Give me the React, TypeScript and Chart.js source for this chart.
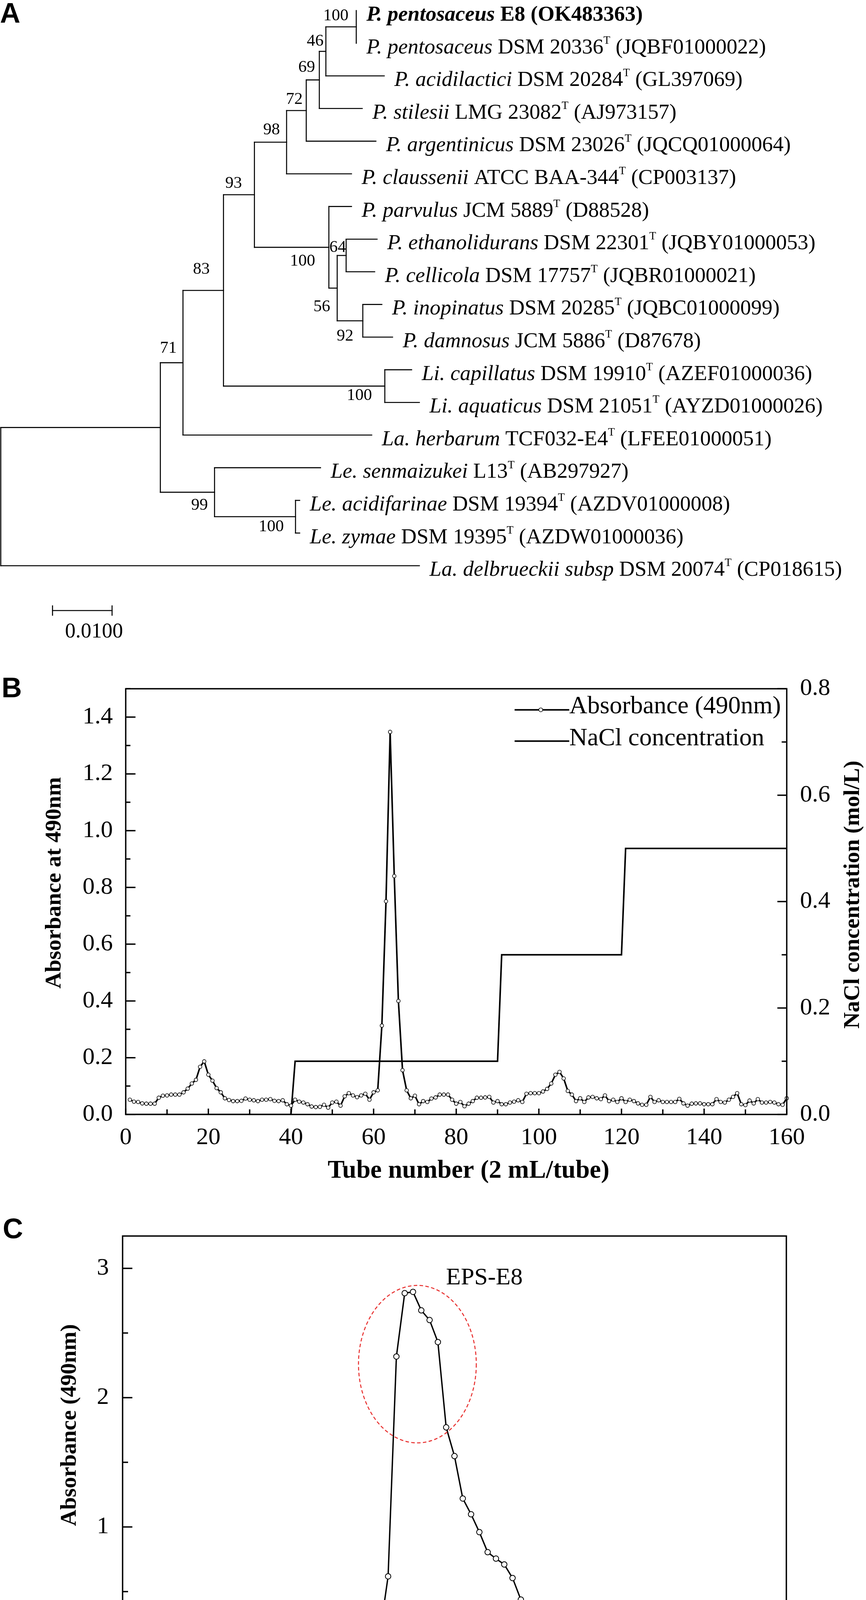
import React, { useEffect, useRef } from 'react';
import { Chart, registerables } from 'chart.js';

Chart.register(...registerables);

const SERIF = "'Liberation Serif', 'Times New Roman', Times, serif";
const SANS = "'Liberation Sans', Arial, Helvetica, sans-serif";
const PAGE_W = 2218;

/* ================= Panel A : phylogenetic tree ================= */
const leafSpecies = [
  'P. pentosaceus', 'P. pentosaceus', 'P. acidilactici', 'P. stilesii', 'P. argentinicus',
  'P. claussenii', 'P. parvulus', 'P. ethanolidurans', 'P. cellicola', 'P. inopinatus',
  'P. damnosus', 'Li. capillatus', 'Li. aquaticus', 'La. herbarum', 'Le. senmaizukei',
  'Le. acidifarinae', 'Le. zymae', 'La. delbrueckii subsp',
];
const leafStrains = [
  'E8', 'DSM 20336', 'DSM 20284', 'LMG 23082', 'DSM 23026', 'ATCC BAA-344', 'JCM 5889',
  'DSM 22301', 'DSM 17757', 'DSM 20285', 'JCM 5886', 'DSM 19910', 'DSM 21051', 'TCF032-E4',
  'L13', 'DSM 19394', 'DSM 19395', 'DSM 20074',
];
const leafAccessions = [
  'OK483363', 'JQBF01000022', 'GL397069', 'AJ973157', 'JQCQ01000064', 'CP003137', 'D88528',
  'JQBY01000053', 'JQBR01000021', 'JQBC01000099', 'D87678', 'AZEF01000036', 'AYZD01000026',
  'LFEE01000051', 'AB297927', 'AZDV01000008', 'AZDW01000036', 'CP018615',
];
const leafTypeStrain = [false, true, true, true, true, true, true, true, true, true, true, true, true, true, true, true, true, true];
const boldLeaf = 0;
const leafParents = ['I', 'I', 'H', 'G', 'F', 'E', 'J', 'L', 'L', 'M', 'M', 'Li', 'Li', 'B', 'N', 'O', 'O', 'root'];
const leafBranchLengths = [0, 0, 0.0098, 0.0072, 0.0117, 0.0109, 0.0038, 0.0052, 0.0048, 0.0032, 0.005, 0.0045, 0.0058, 0.0317, 0.0178, 0.0007, 0.0007, 0.0703];
const nodeIds = ['A', 'B', 'C', 'D', 'E', 'F', 'G', 'H', 'I', 'J', 'K', 'L', 'M', 'Li', 'N', 'O'];
const nodeParents = ['root', 'A', 'B', 'C', 'D', 'E', 'F', 'G', 'H', 'D', 'J', 'K', 'K', 'C', 'A', 'N'];
const nodeBranchLengths = [0.0268, 0.0038, 0.0068, 0.0052, 0.0054, 0.0033, 0.0022, 0.0011, 0.0051, 0.0125, 0.0014, 0.0015, 0.0043, 0.0271, 0.0091, 0.0136];
const nodeBootstrap = [null, 71, 83, 93, 98, 72, 69, 46, 100, 100, 56, 64, 92, 100, 99, 100];
const scaleBarValue = 0.01;
const scaleBarText = '0.0100';

// label placement style (px): [gap left of node, baseline offset from branch]
const bootstrapPlacement: Record<string, [number, number]> = {
  B: [16, -26], C: [35, -42], D: [32, -18], E: [17, -20], F: [9, -17], G: [11, -21], H: [6, -15],
  I: [20, -17], J: [35, 47], K: [18, 59], L: [0, -9], M: [24, 51], Li: [33, 36], N: [17, 45], O: [30, 37],
};

function layoutTree() {
  const parentOf: Record<string, string> = {};
  const lengthOf: Record<string, number> = {};
  const kids: Record<string, string[]> = { root: [] };
  nodeIds.forEach((id, k) => {
    parentOf[id] = nodeParents[k];
    lengthOf[id] = nodeBranchLengths[k];
    if (!kids[id]) kids[id] = [];
  });
  nodeIds.forEach((id) => {
    const p = parentOf[id];
    (kids[p] = kids[p] || []).push(id);
  });
  leafParents.forEach((p, i) => {
    const id = 'leaf' + i;
    parentOf[id] = p;
    lengthOf[id] = leafBranchLengths[i];
    (kids[p] = kids[p] || []).push(id);
  });
  const X: Record<string, number> = { root: 0 };
  const Y: Record<string, number> = {};
  const depth = (id: string): number => {
    if (X[id] !== undefined) return X[id];
    X[id] = depth(parentOf[id]) + lengthOf[id];
    return X[id];
  };
  const row = (id: string): number => {
    if (Y[id] !== undefined) return Y[id];
    if (id.startsWith('leaf')) {
      Y[id] = Number(id.slice(4));
      return Y[id];
    }
    const ys = kids[id].map(row);
    Y[id] = (Math.min(...ys) + Math.max(...ys)) / 2;
    return Y[id];
  };
  Object.keys(parentOf).forEach((id) => { depth(id); row(id); });
  row('root');
  const segments: { x: number; y: number }[][] = [];
  ['root', ...nodeIds].forEach((n) => {
    const ys = kids[n].map(row);
    segments.push([{ x: X[n], y: Math.min(...ys) }, { x: X[n], y: Math.max(...ys) }]);
    kids[n].forEach((c) => {
      if (X[c] > X[n]) segments.push([{ x: X[n], y: Y[c] }, { x: X[c], y: Y[c] }]);
    });
  });
  return { X, Y, segments };
}

type Seg = { text: string; italic?: boolean; bold?: boolean; sup?: boolean };
function drawRich(ctx: CanvasRenderingContext2D, x: number, y: number, segs: Seg[], size: number) {
  let cx = x;
  segs.forEach((s) => {
    const fs = s.sup ? size * 0.52 : size;
    ctx.font = `${s.italic ? 'italic ' : ''}${s.bold ? 'bold ' : ''}${fs}px ${SERIF}`;
    ctx.fillText(s.text, cx, s.sup ? y - size * 0.45 : y);
    cx += ctx.measureText(s.text).width;
  });
}

function TreePanel() {
  const ref = useRef<HTMLCanvasElement>(null);
  useEffect(() => {
    const H = 1700;
    const pxPerUnit = 15250;
    const rootPx = 2;
    const firstRowPx = 27;
    const rowPx = 83.6;
    const barStart = 0.00869;
    const barRow = 18.373;
    const { X, Y, segments } = layoutTree();
    const lineStyle = { showLine: true, borderColor: '#000', borderWidth: 2.6, pointRadius: 0, borderCapStyle: 'square', tension: 0, clip: false };
    const datasets: any[] = segments.map((s) => ({ ...lineStyle, data: s }));
    const tickHalf = 12 / rowPx;
    datasets.push({ ...lineStyle, data: [{ x: barStart, y: barRow }, { x: barStart + scaleBarValue, y: barRow }] });
    datasets.push({ ...lineStyle, data: [{ x: barStart, y: barRow - tickHalf }, { x: barStart, y: barRow + tickHalf }] });
    datasets.push({ ...lineStyle, data: [{ x: barStart + scaleBarValue, y: barRow - tickHalf }, { x: barStart + scaleBarValue, y: barRow + tickHalf }] });

    const labels = {
      id: 'treeLabels',
      afterDatasetsDraw(chart: any) {
        const { ctx, scales } = chart;
        const xs = scales.x;
        const ys = scales.y;
        ctx.save();
        ctx.fillStyle = '#000';
        ctx.textBaseline = 'alphabetic';
        ctx.textAlign = 'left';
        leafSpecies.forEach((sp, i) => {
          const id = 'leaf' + i;
          const px = xs.getPixelForValue(X[id]) + 26;
          const py = ys.getPixelForValue(i) + 26;
          const bold = i === boldLeaf;
          const segs: Seg[] = [{ text: sp, italic: true, bold }, { text: ' ' + leafStrains[i], bold }];
          if (leafTypeStrain[i]) segs.push({ text: 'T', sup: true, bold });
          segs.push({ text: ' (' + leafAccessions[i] + ')', bold });
          drawRich(ctx, px, py, segs, 55);
        });
        ctx.textAlign = 'right';
        ctx.font = `43px ${SERIF}`;
        nodeIds.forEach((id, k) => {
          const b = nodeBootstrap[k];
          if (b == null) return;
          const [gap, dy] = bootstrapPlacement[id] || [16, -18];
          ctx.fillText(String(b), xs.getPixelForValue(X[id]) - gap, ys.getPixelForValue(Y[id]) + dy);
        });
        ctx.textAlign = 'left';
        ctx.font = `54px ${SERIF}`;
        ctx.fillText(scaleBarText, xs.getPixelForValue(barStart) + 32, ys.getPixelForValue(barRow) + 69);
        ctx.font = `bold 72px ${SANS}`;
        ctx.fillText('A', 0, 58);
        ctx.restore();
      },
    };

    const chart = new Chart(ref.current!, {
      type: 'scatter',
      data: { datasets },
      options: {
        responsive: false,
        animation: false,
        devicePixelRatio: 1,
        layout: { padding: 0 },
        plugins: { legend: { display: false }, tooltip: { enabled: false } },
        scales: {
          x: { type: 'linear', display: false, min: -rootPx / pxPerUnit, max: (PAGE_W - rootPx) / pxPerUnit },
          y: { type: 'linear', display: false, reverse: true, min: -firstRowPx / rowPx, max: -firstRowPx / rowPx + H / rowPx },
        },
      } as any,
      plugins: [labels as any],
    });
    return () => chart.destroy();
  }, []);
  return <canvas ref={ref} width={PAGE_W} height={1700} style={{ position: 'absolute', left: 0, top: 0 }} />;
}

/* ================= Panel B : DEAE elution profile ================= */
const tubeNumbersB = Array.from({ length: 160 }, (_, i) => i + 1);
const absorbanceB = [
  0.052, 0.045, 0.044, 0.039, 0.038, 0.038, 0.038, 0.059, 0.066, 0.067,
  0.070, 0.070, 0.070, 0.078, 0.091, 0.109, 0.122, 0.168, 0.187, 0.140,
  0.119, 0.093, 0.078, 0.057, 0.051, 0.047, 0.047, 0.048, 0.056, 0.052,
  0.050, 0.047, 0.052, 0.052, 0.054, 0.048, 0.047, 0.050, 0.036, 0.031,
  0.052, 0.045, 0.042, 0.036, 0.028, 0.026, 0.027, 0.034, 0.024, 0.042,
  0.045, 0.031, 0.064, 0.075, 0.067, 0.061, 0.067, 0.073, 0.052, 0.078,
  0.085, 0.313, 0.751, 1.348, 0.840, 0.400, 0.156, 0.085, 0.057, 0.066,
  0.036, 0.047, 0.044, 0.056, 0.060, 0.070, 0.070, 0.070, 0.052, 0.038,
  0.044, 0.029, 0.038, 0.047, 0.059, 0.059, 0.060, 0.062, 0.042, 0.047,
  0.036, 0.036, 0.042, 0.045, 0.050, 0.044, 0.073, 0.075, 0.075, 0.075,
  0.081, 0.090, 0.109, 0.140, 0.150, 0.127, 0.083, 0.070, 0.047, 0.057,
  0.044, 0.060, 0.062, 0.057, 0.054, 0.067, 0.047, 0.052, 0.044, 0.057,
  0.044, 0.052, 0.047, 0.039, 0.034, 0.034, 0.062, 0.044, 0.050, 0.044,
  0.044, 0.044, 0.044, 0.055, 0.039, 0.031, 0.038, 0.039, 0.039, 0.036,
  0.036, 0.036, 0.054, 0.044, 0.042, 0.052, 0.062, 0.075, 0.036, 0.033,
  0.049, 0.039, 0.054, 0.042, 0.042, 0.044, 0.042, 0.036, 0.034, 0.057,
];
const naclTubes = [0, 40, 41, 90, 91, 120, 121, 160];
const naclConc = [0, 0, 0.1, 0.1, 0.3, 0.3, 0.5, 0.5];
const xTicksB = [0, 20, 40, 60, 80, 100, 120, 140, 160];
const yTicksB = [0, 0.2, 0.4, 0.6, 0.8, 1.0, 1.2, 1.4];
const y2TicksB = [0, 0.2, 0.4, 0.6, 0.8];

/* ================= Panel C : Sephadex purification ================= */
const tubeNumbersC = Array.from({ length: 80 }, (_, i) => i + 1);
const absorbanceC = [
  0.083, 0.075, 0.088, 0.083, 0.088, 0.083, 0.118, 0.100, 0.108, 0.100,
  0.088, 0.098, 0.113, 0.095, 0.113, 0.105, 0.100, 0.100, 0.103, 0.080,
  0.100, 0.103, 0.105, 0.108, 0.088, 0.075, 0.113, 0.113, 0.123, 0.083,
  0.170, 0.618, 2.318, 2.808, 2.818, 2.675, 2.600, 2.430, 1.770, 1.548,
  1.220, 1.098, 0.960, 0.805, 0.755, 0.710, 0.605, 0.438, 0.198, 0.118,
  0.075, 0.070, 0.113, 0.083, 0.080, 0.088, 0.088, 0.105, 0.113, 0.100,
  0.055, 0.113, 0.108, 0.110, 0.105, 0.100, 0.108, 0.095, 0.095, 0.095,
  0.100, 0.088, 0.073, 0.095, 0.048, 0.093, 0.050, 0.095, 0.093, 0.030,
];
const xTicksC = [0, 10, 20, 30, 40, 50, 60, 70, 80];
const yTicksC = [0, 1, 2, 3];
const peakLabel = 'EPS-E8';
const peakLabelPos = { x: 43.6, y: 2.877 };
const peakEllipse = { cx: 35.53, cy: 2.259, rx: 7.1, ry: 0.609 };

/* ---------------- shared drawing helpers ---------------- */
function frame(ctx: CanvasRenderingContext2D, a: any, w: number) {
  ctx.save();
  ctx.strokeStyle = '#000';
  ctx.lineWidth = w;
  ctx.lineCap = 'square';
  ctx.strokeRect(a.left, a.top, a.right - a.left, a.bottom - a.top);
  ctx.restore();
}
function ticks(ctx: CanvasRenderingContext2D, scale: any, side: 'left' | 'right' | 'bottom', from: number, to: number, step: number, majorStep: number, majorLen: number, minorLen: number, w: number) {
  const a = scale.chart.chartArea;
  ctx.save();
  ctx.strokeStyle = '#000';
  ctx.lineWidth = w;
  ctx.beginPath();
  const n = Math.round((to - from) / step);
  for (let k = 0; k <= n; k++) {
    const v = from + k * step;
    const r = v / majorStep;
    const major = Math.abs(r - Math.round(r)) < 1e-6;
    const len = major ? majorLen : minorLen;
    const p = scale.getPixelForValue(v);
    if (side === 'left') { ctx.moveTo(a.left, p); ctx.lineTo(a.left + len, p); }
    else if (side === 'right') { ctx.moveTo(a.right, p); ctx.lineTo(a.right - len, p); }
    else { ctx.moveTo(p, a.bottom); ctx.lineTo(p, a.bottom - len); }
  }
  ctx.stroke();
  ctx.restore();
}
function vText(ctx: CanvasRenderingContext2D, text: string, x: number, y: number, font: string) {
  ctx.save();
  ctx.translate(x, y);
  ctx.rotate(-Math.PI / 2);
  ctx.font = font;
  ctx.textAlign = 'center';
  ctx.textBaseline = 'middle';
  ctx.fillStyle = '#000';
  ctx.fillText(text, 0, 0);
  ctx.restore();
}
function hText(ctx: CanvasRenderingContext2D, text: string, x: number, y: number, font: string, align: CanvasTextAlign = 'center', base: CanvasTextBaseline = 'middle') {
  ctx.save();
  ctx.font = font;
  ctx.textAlign = align;
  ctx.textBaseline = base;
  ctx.fillStyle = '#000';
  ctx.fillText(text, x, y);
  ctx.restore();
}

const tickFont = { family: SERIF, size: 62 };

function ElutionPanel() {
  const ref = useRef<HTMLCanvasElement>(null);
  useEffect(() => {
    const deco = {
      id: 'decoB',
      afterDatasetsDraw(chart: any) {
        const { ctx, chartArea: a, scales } = chart;
        frame(ctx, a, 3.5);
        ticks(ctx, scales.y, 'left', 0, 1.5, 0.1, 0.2, 25, 12, 3.5);
        ticks(ctx, scales.y2, 'right', 0, 0.8, 0.1, 0.2, 24, 13, 3.5);
        ticks(ctx, scales.x, 'bottom', 0, 160, 10, 20, 15, 13, 3.5);
        vText(ctx, 'Absorbance at 490nm', a.left - 182, a.top + 497, `bold 58px ${SERIF}`);
        vText(ctx, 'NaCl concentration (mol/L)', a.right + 170, a.top + 527, `bold 58px ${SERIF}`);
        hText(ctx, 'Tube number (2 mL/tube)', 1200, a.bottom + 145, `bold 65px ${SERIF}`);
        hText(ctx, 'B', 4, 85, `bold 72px ${SANS}`, 'left', 'alphabetic');
        // legend
        ctx.save();
        ctx.strokeStyle = '#000';
        ctx.lineWidth = 4;
        const lx0 = a.left + 996, lx1 = a.left + 1136;
        const ly1 = a.top + 54, ly2 = a.top + 134;
        ctx.beginPath();
        ctx.moveTo(lx0, ly1); ctx.lineTo(lx1, ly1);
        ctx.moveTo(lx0, ly2); ctx.lineTo(lx1, ly2);
        ctx.stroke();
        ctx.beginPath();
        ctx.lineWidth = 1.6;
        ctx.fillStyle = '#fff';
        ctx.arc((lx0 + lx1) / 2 - 3, ly1, 5, 0, Math.PI * 2);
        ctx.fill();
        ctx.stroke();
        ctx.restore();
        hText(ctx, 'Absorbance (490nm)', lx1, ly1 + 9, `64px ${SERIF}`, 'left', 'alphabetic');
        hText(ctx, 'NaCl concentration', lx1, ly2 + 11, `64px ${SERIF}`, 'left', 'alphabetic');
      },
    };
    const chart = new Chart(ref.current!, {
      type: 'scatter',
      data: {
        datasets: [
          {
            label: 'Absorbance (490nm)',
            data: tubeNumbersB.map((t, i) => ({ x: t, y: absorbanceB[i] })),
            yAxisID: 'y', showLine: true, borderColor: '#000', borderWidth: 4, tension: 0,
            pointRadius: 4.5, pointBorderWidth: 1.6, pointBackgroundColor: '#fff', pointBorderColor: '#000', clip: false,
          },
          {
            label: 'NaCl concentration',
            data: naclTubes.map((t, i) => ({ x: t, y: naclConc[i] })),
            yAxisID: 'y2', showLine: true, borderColor: '#000', borderWidth: 4, tension: 0, pointRadius: 0, borderJoinStyle: 'miter',
          },
        ],
      },
      options: {
        responsive: false,
        animation: false,
        devicePixelRatio: 1,
        layout: { padding: { top: 48, left: 0, right: 0, bottom: 0 } },
        plugins: { legend: { display: false }, tooltip: { enabled: false } },
        scales: {
          x: {
            type: 'linear', position: 'bottom', min: 0, max: 160,
            grid: { display: false }, border: { display: false },
            afterBuildTicks: (s: any) => { s.ticks = xTicksB.map((v) => ({ value: v })); },
            ticks: { font: tickFont, color: '#000', padding: 15, maxRotation: 0, autoSkip: false, callback: (v: any) => String(v) },
            afterFit: (s: any) => { s.height = 247; },
          },
          y: {
            type: 'linear', position: 'left', min: 0, max: 1.5,
            grid: { display: false }, border: { display: false },
            afterBuildTicks: (s: any) => { s.ticks = yTicksB.map((v) => ({ value: v })); },
            ticks: { font: tickFont, color: '#000', padding: 25, autoSkip: false, callback: (v: any) => Number(v).toFixed(1) },
            afterFit: (s: any) => { s.width = 322; },
          },
          y2: {
            type: 'linear', position: 'right', min: 0, max: 0.8,
            grid: { display: false }, border: { display: false },
            afterBuildTicks: (s: any) => { s.ticks = y2TicksB.map((v) => ({ value: v })); },
            ticks: { font: tickFont, color: '#000', padding: 26, autoSkip: false, callback: (v: any) => Number(v).toFixed(1) },
            afterFit: (s: any) => { s.width = PAGE_W - 2015; },
          },
        },
      } as any,
      plugins: [deco as any],
    });
    return () => chart.destroy();
  }, []);
  return <canvas ref={ref} width={PAGE_W} height={1400} style={{ position: 'absolute', left: 0, top: 1700 }} />;
}

function GelPanel() {
  const ref = useRef<HTMLCanvasElement>(null);
  useEffect(() => {
    const deco = {
      id: 'decoC',
      afterDatasetsDraw(chart: any) {
        const { ctx, chartArea: a, scales } = chart;
        frame(ctx, a, 3.5);
        ticks(ctx, scales.y, 'left', 0, 3, 0.5, 1, 25, 14, 3.5);
        ticks(ctx, scales.x, 'bottom', 0, 80, 5, 10, 17, 13, 3.5);
        vText(ctx, 'Absorbance (490nm)', a.left - 135, a.top + 484, `bold 58px ${SERIF}`);
        hText(ctx, 'Tube number (2 mL/tube)', 1170, a.bottom + 149, `bold 65px ${SERIF}`);
        hText(ctx, 'C', 7, 70, `bold 72px ${SANS}`, 'left', 'alphabetic');
        const xs = scales.x, ys = scales.y;
        const cx = xs.getPixelForValue(peakEllipse.cx);
        const cy = ys.getPixelForValue(peakEllipse.cy);
        const rx = Math.abs(xs.getPixelForValue(peakEllipse.cx + peakEllipse.rx) - cx);
        const ry = Math.abs(ys.getPixelForValue(peakEllipse.cy + peakEllipse.ry) - cy);
        ctx.save();
        ctx.strokeStyle = '#e8302f';
        ctx.lineWidth = 2.6;
        ctx.setLineDash([9, 6]);
        ctx.beginPath();
        ctx.ellipse(cx, cy, rx, ry, 0, 0, Math.PI * 2);
        ctx.stroke();
        ctx.restore();
        hText(ctx, peakLabel, xs.getPixelForValue(peakLabelPos.x), ys.getPixelForValue(peakLabelPos.y), `62px ${SERIF}`, 'center', 'alphabetic');
      },
    };
    const chart = new Chart(ref.current!, {
      type: 'scatter',
      data: {
        datasets: [
          {
            label: 'Absorbance (490nm)',
            data: tubeNumbersC.map((t, i) => ({ x: t, y: absorbanceC[i] })),
            showLine: true, borderColor: '#000', borderWidth: 3.5, tension: 0,
            pointRadius: 7, pointBorderWidth: 2, pointBackgroundColor: '#fff', pointBorderColor: '#000', clip: false,
          },
        ],
      },
      options: {
        responsive: false,
        animation: false,
        devicePixelRatio: 1,
        layout: { padding: { top: 27, left: 0, right: PAGE_W - 2014, bottom: 0 } },
        plugins: { legend: { display: false }, tooltip: { enabled: false } },
        scales: {
          x: {
            type: 'linear', position: 'bottom', min: 0, max: 80,
            grid: { display: false }, border: { display: false },
            afterBuildTicks: (s: any) => { s.ticks = xTicksC.map((v) => ({ value: v })); },
            ticks: { font: tickFont, color: '#000', padding: 24, maxRotation: 0, autoSkip: false, callback: (v: any) => String(v) },
            afterFit: (s: any) => { s.height = 182; },
          },
          y: {
            type: 'linear', position: 'left', min: 0, max: 3.25,
            grid: { display: false }, border: { display: false },
            afterBuildTicks: (s: any) => { s.ticks = yTicksC.map((v) => ({ value: v })); },
            ticks: { font: tickFont, color: '#000', padding: 27, autoSkip: false, callback: (v: any) => String(v) },
            afterFit: (s: any) => { s.width = 314; },
          },
        },
      } as any,
      plugins: [deco as any],
    });
    return () => chart.destroy();
  }, []);
  return <canvas ref={ref} width={PAGE_W} height={1322} style={{ position: 'absolute', left: 0, top: 3100 }} />;
}

export default function App() {
  return (
    <div style={{ position: 'absolute', left: 0, top: 0, width: PAGE_W, height: 4422, background: '#fff', overflow: 'hidden' }}>
      <TreePanel />
      <ElutionPanel />
      <GelPanel />
    </div>
  );
}
